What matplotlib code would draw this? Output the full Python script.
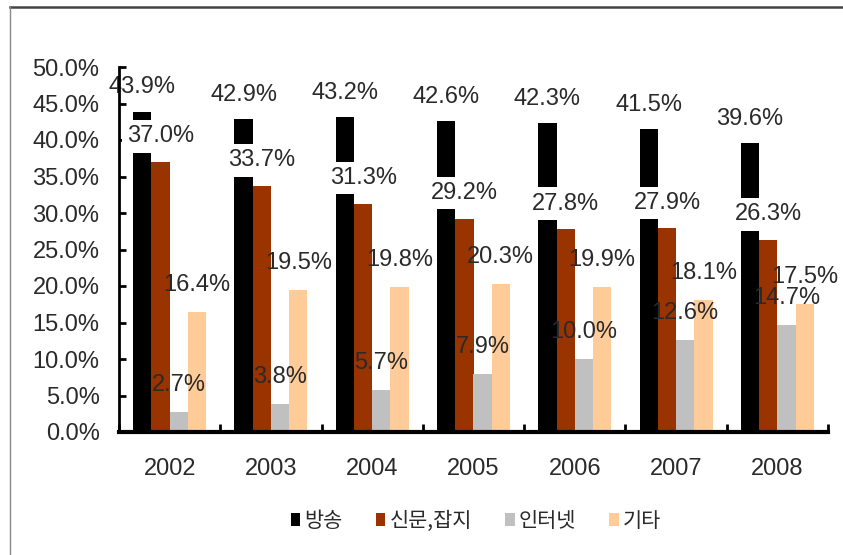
import matplotlib
matplotlib.use("Agg")
import matplotlib.pyplot as plt
import numpy as np
from matplotlib.patches import Patch
from matplotlib.lines import Line2D

plt.rcParams['font.family'] = ['Liberation Sans', 'Noto Sans CJK KR', 'DejaVu Sans']

years = ['2002', '2003', '2004', '2005', '2006', '2007', '2008']
series_names = ['방송', '신문,잡지', '인터넷', '기타']
broadcast = [43.9, 42.9, 43.2, 42.6, 42.3, 41.5, 39.6]
print_media = [37.0, 33.7, 31.3, 29.2, 27.8, 27.9, 26.3]
internet = [2.7, 3.8, 5.7, 7.9, 10.0, 12.6, 14.7]
others = [16.4, 19.5, 19.8, 20.3, 19.9, 18.1, 17.5]
yticks = [0, 5, 10, 15, 20, 25, 30, 35, 40, 45, 50]

colors = ['#000000', '#993300', '#C0C0C0', '#FFCC99']
data = [broadcast, print_media, internet, others]

W, H = 843, 555
fig = plt.figure(figsize=(W / 100, H / 100), dpi=100)
ax = fig.add_axes([119 / W, 1 - 432 / H, (828 - 119) / W, (432 - 67) / H])

x = np.arange(len(years))
bw = 0.18
offsets = [-1.5 * bw, -0.5 * bw, 0.5 * bw, 1.5 * bw]
txt_color = '#2a2a2a'
fs = 17

for i, (vals, c) in enumerate(zip(data, colors)):
    ax.bar(x + offsets[i], vals, width=bw, color=c, zorder=2, linewidth=0)

for i, vals in enumerate(data):
    for xi, v in zip(x, vals):
        kw = dict(ha='center', va='center', fontsize=fs, color=txt_color)
        if i == 0:
            ax.text(xi + offsets[i], v + 3.3, f'{v:.1f}%', zorder=2.5, **kw)
        elif i == 1:
            ax.text(xi + offsets[i], v + 3.5, f'{v:.1f}%', zorder=5,
                    bbox=dict(boxstyle='square,pad=0.22', facecolor='white', edgecolor='none'),
                    **kw)
        else:
            ax.text(xi + offsets[i], v + 3.7, f'{v:.1f}%', zorder=5, **kw)

ax.set_xlim(-0.5, len(years) - 0.5)
ax.set_ylim(0, 50)
ax.set_yticks(yticks)
ax.set_yticklabels([f'{t:.1f}%' for t in yticks])
ax.tick_params(axis='y', direction='in', length=5, width=2, pad=14,
               labelsize=fs, labelcolor=txt_color)

ax.set_xticks(np.arange(len(years) + 1) - 0.5)
ax.set_xticklabels([])
ax.tick_params(axis='x', which='major', direction='in', length=6, width=2)
ax.set_xticks(x, minor=True)
ax.set_xticklabels(years, minor=True)
ax.tick_params(axis='x', which='minor', length=0, pad=18.5, labelsize=fs, labelcolor=txt_color)

for s in ['top', 'right']:
    ax.spines[s].set_visible(False)
ax.spines['left'].set_linewidth(2)
ax.spines['bottom'].set_linewidth(3)
ax.spines['left'].set_zorder(3)
ax.spines['bottom'].set_zorder(3)

handles = [Patch(facecolor=c, edgecolor='none') for c in colors]
fig.legend(handles, series_names, loc='center', bbox_to_anchor=(476 / W, 1 - 521 / H),
           ncol=4, frameon=False, prop={'family': ['Noto Sans CJK KR'], 'size': 15},
           handlelength=0.45, handleheight=0.6, handletextpad=0.2, columnspacing=1.6,
           labelcolor=txt_color)

# outer frame
fig.add_artist(Line2D([10 / W, 1.0], [1 - 7 / H, 1 - 7 / H], transform=fig.transFigure,
                      color='#444444', linewidth=1.8))
fig.add_artist(Line2D([10 / W, 10 / W], [1 - 7 / H, 0], transform=fig.transFigure,
                      color='#888888', linewidth=1.0))

fig.savefig('out.png', dpi=100)
